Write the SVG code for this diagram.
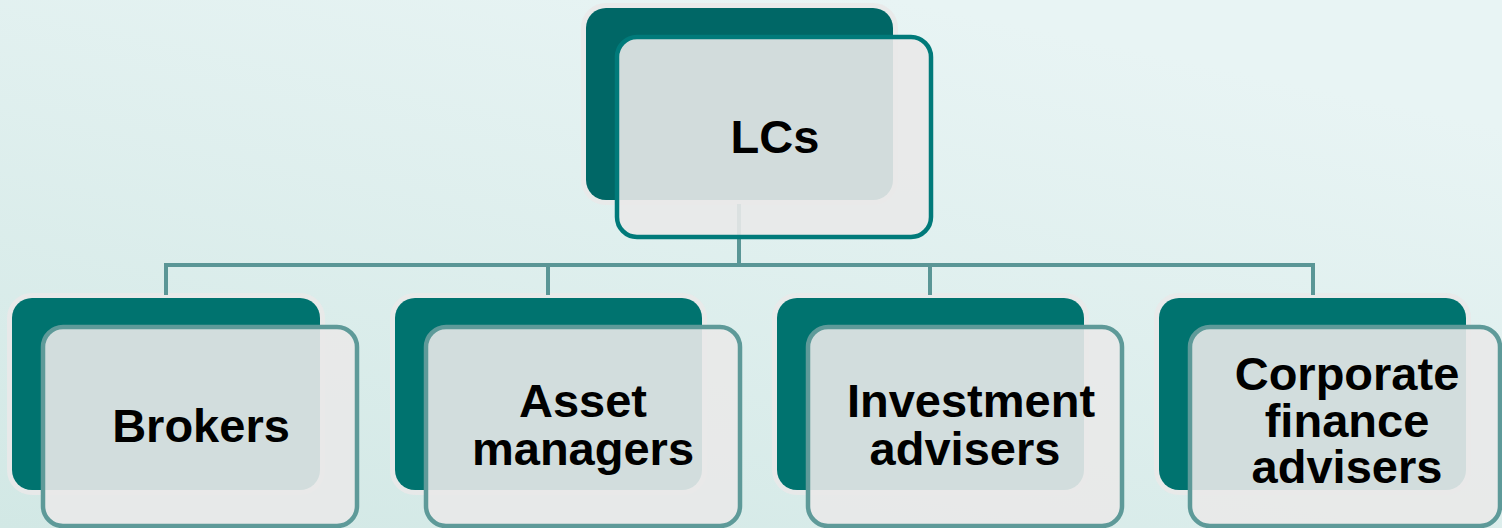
<svg xmlns="http://www.w3.org/2000/svg" width="1502" height="528" viewBox="0 0 1502 528">
<defs>
<linearGradient id="bg" x1="0" y1="1" x2="0.6" y2="0">
<stop offset="0" stop-color="#d2e8e5"/>
<stop offset="1" stop-color="#e8f4f4"/>
</linearGradient>
<style>
.back{fill:#00736f;stroke:#e9e9e9;stroke-width:10;paint-order:stroke;stroke-opacity:0.9}
.backtop{fill:#006766;stroke:#e9e9e9;stroke-width:10;paint-order:stroke;stroke-opacity:0.9}
.front{fill:#e9e9e9;fill-opacity:0.9;stroke:#5e9a99;stroke-width:4.5}
.fronttop{fill:#e9e9e9;fill-opacity:0.9;stroke:#007a7a;stroke-width:4.5}
.lbl{font-family:"Liberation Sans",Arial,sans-serif;font-weight:bold;font-size:47px;fill:#000;text-anchor:middle}
.conn{stroke:#5a9696;stroke-width:4;fill:none}
</style>
</defs>
<rect width="1502" height="528" fill="url(#bg)"/>
<g id="back-shapes">
<rect class="backtop" x="586" y="8" width="307" height="192" rx="20"/>
<rect class="back" x="12" y="298" width="308" height="192" rx="20"/>
<rect class="back" x="395" y="298" width="307" height="192" rx="20"/>
<rect class="back" x="777" y="298" width="307" height="192" rx="20"/>
<rect class="back" x="1159" y="298" width="307" height="192" rx="20"/>
</g>
<g id="connectors">
<path class="conn" d="M739 204 V265"/>
<path class="conn" d="M164 265 H1315"/>
<path class="conn" d="M166 263 V295"/>
<path class="conn" d="M548 263 V295"/>
<path class="conn" d="M930 263 V295"/>
<path class="conn" d="M1313 263 V295"/>
</g>
<g id="node-lcs">
<rect class="fronttop" x="617" y="37" width="314" height="200" rx="20"/>
<text class="lbl" x="775" y="153">LCs</text>
</g>
<g id="node-brokers">
<rect class="front" x="43" y="327" width="314" height="199" rx="20"/>
<text class="lbl" x="201" y="442">Brokers</text>
</g>
<g id="node-asset-managers">
<rect class="front" x="426" y="327" width="314" height="199" rx="20"/>
<text class="lbl" x="583" y="417">Asset</text>
<text class="lbl" x="583" y="465">managers</text>
</g>
<g id="node-investment-advisers">
<rect class="front" x="808" y="327" width="314" height="199" rx="20"/>
<text class="lbl" x="971" y="417">Investment</text>
<text class="lbl" x="965" y="465">advisers</text>
</g>
<g id="node-corporate-finance-advisers">
<rect class="front" x="1190" y="327" width="310" height="199" rx="20"/>
<text class="lbl" x="1347" y="390">Corporate</text>
<text class="lbl" x="1347" y="437">finance</text>
<text class="lbl" x="1347" y="483">advisers</text>
</g>
</svg>
